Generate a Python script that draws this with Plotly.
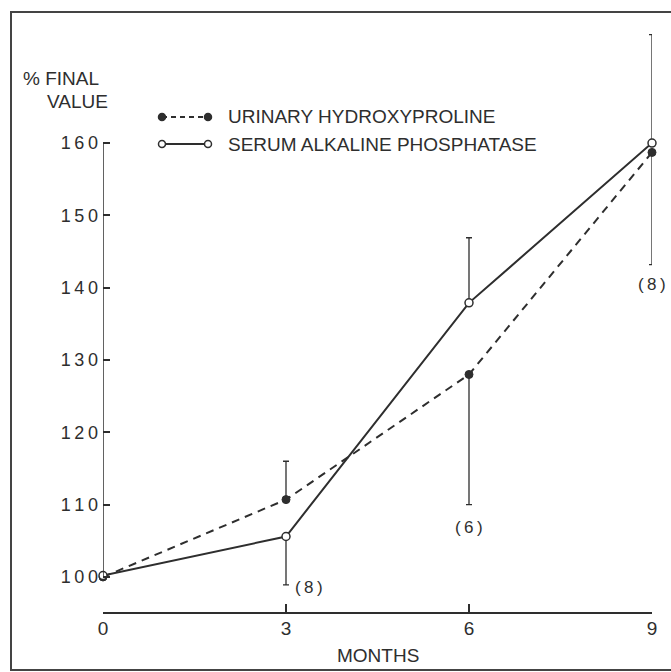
import plotly.graph_objects as go

# ---- data ----
months = [0, 3, 6, 9]
hyp_values = [100, 110.7, 128, 158.7]          # urinary hydroxyproline (dashed, filled)
hyp_err_up = [0, 5.3, 0, 0]
hyp_err_down = [0, 0, 18, 15.5]
alp_values = [100.2, 105.6, 137.9, 160]        # serum alkaline phosphatase (solid, open)
alp_err_up = [0, 0, 9, 15]
alp_err_down = [0, 6.7, 0, 0]
n_labels = ["(8)", "(6)", "(8)"]
n_label_x = [3, 6, 9]
n_label_y = [98.6, 106.9, 140.4]
y_ticks = [100, 110, 120, 130, 140, 150, 160]
x_ticks = [0, 3, 6, 9]
series_names = ["URINARY HYDROXYPROLINE", "SERUM ALKALINE PHOSPHATASE"]

INK = "#2e2e2e"
FONT = "Liberation Sans, Arial, sans-serif"

# pixel helpers for decoration placement (plot area: x 103..652, y 20..612)
L, R_PX, T, B = 103, 652, 20, 612
W, H = R_PX - L, B - T
def px(x):
    return (x - L) / W
def py(y):
    return (B - y) / H

def spaced(s):
    return "\u2009".join(list(s))

fig = go.Figure()

fig.add_trace(go.Scatter(
    x=months, y=hyp_values, mode="lines+markers", name=series_names[0],
    line=dict(color=INK, width=2, dash="8px,6px"),
    marker=dict(symbol="circle", size=8, color=INK, line=dict(color=INK, width=1)),
    error_y=dict(type="data", symmetric=False, array=hyp_err_up, arrayminus=hyp_err_down,
                 color=INK, thickness=1.3, width=3),
    cliponaxis=False, showlegend=False,
))
fig.add_trace(go.Scatter(
    x=months, y=alp_values, mode="lines+markers", name=series_names[1],
    line=dict(color=INK, width=2),
    marker=dict(symbol="circle", size=8, color="white", line=dict(color=INK, width=1.5)),
    error_y=dict(type="data", symmetric=False, array=alp_err_up, arrayminus=alp_err_down,
                 color=INK, thickness=1.3, width=3),
    cliponaxis=False, showlegend=False,
))

shapes = []
# outer frame
shapes.append(dict(type="rect", xref="paper", yref="paper",
                   x0=px(11), x1=px(700), y0=py(670), y1=py(12),
                   line=dict(color="#444", width=2), fillcolor="rgba(0,0,0,0)", layer="below"))
# y axis line (100..160 only)
shapes.append(dict(type="line", xref="x", yref="y", x0=0, x1=0, y0=y_ticks[0], y1=y_ticks[-1],
                   line=dict(color=INK, width=1.5)))
# legend samples
leg_y = [117, 144]
for i, yy in enumerate(leg_y):
    shapes.append(dict(type="line", xref="paper", yref="paper",
                       x0=px(162), x1=px(208), y0=py(yy), y1=py(yy),
                       line=dict(color=INK, width=2, dash="5px,4px" if i == 0 else "solid")))
    for xx in (162, 208):
        shapes.append(dict(type="circle", xref="paper", yref="paper",
                           xsizemode="pixel", ysizemode="pixel",
                           xanchor=px(xx), yanchor=py(yy),
                           x0=-3.5, x1=3.5, y0=-3.5, y1=3.5,
                           fillcolor=INK if i == 0 else "white",
                           line=dict(color=INK, width=1.5)))

annotations = []
for i, yy in enumerate(leg_y):
    annotations.append(dict(xref="paper", yref="paper", x=px(226), y=py(yy),
                            xanchor="left", yanchor="middle", showarrow=False,
                            text=series_names[i], font=dict(family=FONT, size=19, color=INK)))
annotations.append(dict(xref="paper", yref="paper", x=px(21), y=py(78), xanchor="left",
                        yanchor="middle", showarrow=False, text="% FINAL",
                        font=dict(family=FONT, size=19, color=INK)))
annotations.append(dict(xref="paper", yref="paper", x=px(45), y=py(101), xanchor="left",
                        yanchor="middle", showarrow=False, text="VALUE",
                        font=dict(family=FONT, size=19, color=INK)))
annotations.append(dict(xref="x", yref="paper", x=4.5, y=py(655), xanchor="center",
                        yanchor="middle", showarrow=False, text="MONTHS",
                        font=dict(family=FONT, size=19, color=INK)))
for i, t in enumerate(n_labels):
    if i == 0:
        annotations.append(dict(xref="x", yref="y", x=n_label_x[i], y=n_label_y[i],
                                xanchor="left", xshift=7, yanchor="middle", showarrow=False,
                                text=spaced(t), font=dict(family=FONT, size=17, color=INK)))
    else:
        annotations.append(dict(xref="x", yref="y", x=n_label_x[i], y=n_label_y[i],
                                xanchor="center", yanchor="middle", showarrow=False,
                                text=spaced(t), font=dict(family=FONT, size=17, color=INK)))

fig.update_layout(
    width=671, height=672,
    margin=dict(l=L, r=671 - R_PX, t=T, b=672 - B, pad=0),
    paper_bgcolor="white", plot_bgcolor="white",
    shapes=shapes, annotations=annotations,
    xaxis=dict(range=[0, 9], tickvals=x_ticks, ticktext=[str(v) for v in x_ticks],
               ticks="inside", ticklen=8, tickwidth=1.5, tickcolor=INK,
               showline=True, linecolor=INK, linewidth=1.5, showgrid=False, zeroline=False,
               tickfont=dict(family=FONT, size=19, color=INK), ticklabelstandoff=-2),
    yaxis=dict(range=[100 - (B - 577) / 7.233, 100 + (577 - T) / 7.233],
               tickvals=y_ticks, ticktext=[spaced(str(v)) for v in y_ticks],
               ticks="inside", ticklen=7, tickwidth=1.5, tickcolor=INK,
               showline=False, showgrid=False, zeroline=False,
               tickfont=dict(family=FONT, size=18, color=INK), ticklabelstandoff=4),
)

fig.write_html("out.html")
